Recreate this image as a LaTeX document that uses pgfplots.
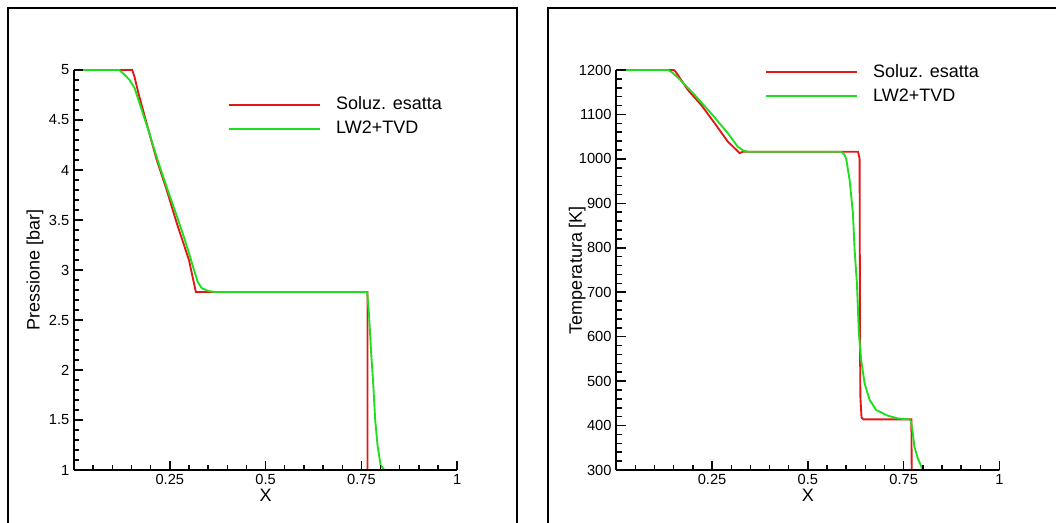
\documentclass[border=0pt]{standalone}
\usepackage{fontspec}
\setmainfont{Liberation Sans}
\usepackage{pgfplots}
\pgfplotsset{compat=1.18}

\definecolor{exred}{RGB}{224,24,24}
\definecolor{lwgreen}{RGB}{30,222,30}
\definecolor{tickc}{RGB}{10,10,10}

\pgfplotsset{
  panel/.style={
    scale only axis,
    width=287.4pt, height=300pt,
    axis x line*=bottom,
    axis y line*=left,
    axis line style={-, line width=1.5pt},
    axis on top,
    clip=false,
    tick align=inside,
    major tick length=7pt,
    minor tick length=4pt,
    xtick style={tickc, line width=1.1pt},
    ytick style={tickc, line width=1.1pt},
    minor tick style={tickc, line width=1.1pt},
    xmin=0, xmax=1,
    xtick={0,0.25,0.5,0.75,1},
    xticklabels={,0.25,0.5,0.75,1},
    minor x tick num=4,
    minor y tick num=4,
    /pgf/number format/assume math mode=true,
    /pgf/number format/1000 sep={},
    tick label style={font=\fontsize{11}{12}\selectfont},
    label style={font=\fontsize{13.5}{15}\selectfont},
    xlabel={X},
    xlabel style={at={(axis description cs:0.5,-0.0625)}, anchor=center},
    ylabel style={at={(axis description cs:-0.102,0.5)}, anchor=center},
    legend cell align=left,
    legend image code/.code={\draw[#1] (0pt,0pt) -- (68pt,0pt);},
    legend style={draw=none, fill=none, inner sep=0pt,
      font=\fontsize{13.5}{15}\selectfont,
      nodes={inner sep=0pt, text height=9.7pt, text depth=2.8pt},
      row sep=5.5pt, column sep=11.5pt},
  },
  exact/.style={exred, line width=1.4pt},
  lw/.style={lwgreen, line width=1.4pt},
}

\begin{document}
\begin{tikzpicture}
\path[use as bounding box] (0,0) rectangle (792pt,391.5pt);
% panel frames
\draw[line width=1.5pt] (6pt,-20pt) -- (6pt,385.5pt) -- (387.5pt,385.5pt) -- (387.5pt,-20pt);
\draw[line width=1.5pt] (411.2pt,-20pt) -- (411.2pt,385.5pt) -- (820pt,385.5pt);

% pressure
\begin{axis}[panel,
  at={(55.5pt,39pt)}, anchor=south west,
  ymin=1, ymax=5,
  ytick={1,1.5,...,5},
  ylabel={Pressione [bar]},
  legend style={at={(axis description cs:0.402,0.8825)}, anchor=west},
]
\addplot[exact] coordinates {
(0,5) (0.152,5) (0.158,4.93) (0.168,4.77) (0.185,4.53) (0.2,4.32) (0.216,4.1)
(0.242,3.8) (0.268,3.47) (0.30,3.1) (0.318,2.78) (0.766,2.78) (0.766,1) (1,1)};
\addlegendentry{Soluz. esatta}
\addplot[lw] coordinates {
(0,5) (0.118,5) (0.13,4.96) (0.145,4.9) (0.158,4.82) (0.17,4.68) (0.182,4.54)
(0.194,4.4) (0.21,4.2) (0.225,4.02) (0.25,3.74) (0.27,3.52) (0.285,3.35)
(0.3,3.17) (0.313,3.0) (0.323,2.88) (0.333,2.82) (0.35,2.79) (0.37,2.78)
(0.765,2.78) (0.770,2.55) (0.775,2.2) (0.781,1.85) (0.786,1.5) (0.792,1.25)
(0.80,1.05) (0.81,1.0) (1,1)};
\addlegendentry{LW2+TVD}
\end{axis}

% temperature
\begin{axis}[panel,
  at={(462.2pt,39pt)}, anchor=south west,
  ymin=300, ymax=1200,
  ytick={300,400,...,1200},
  ylabel={Temperatura [K]},
  legend style={at={(axis description cs:0.388,0.964)}, anchor=west},
]
\addplot[exact] coordinates {
(0,1200) (0.150,1200) (0.155,1196) (0.187,1155) (0.222,1121) (0.257,1080)
(0.291,1039) (0.322,1013) (0.33,1016) (0.631,1016) (0.635,1000) (0.636,600)
(0.637,465) (0.640,418) (0.645,414) (0.770,414) (0.771,300) (1,300)};
\addlegendentry{Soluz. esatta}
\addplot[lw] coordinates {
(0,1200) (0.135,1200) (0.145,1195) (0.161,1183) (0.2045,1144) (0.248,1102)
(0.291,1058) (0.3175,1027) (0.333,1018) (0.345,1016) (0.587,1016) (0.595,1010)
(0.600,1000) (0.609,952) (0.6175,878) (0.622,795) (0.628,720) (0.633,608)
(0.639,548) (0.648,495) (0.661,458) (0.678,435) (0.709,422) (0.735,416)
(0.765,414) (0.769,410) (0.774,382) (0.778,352) (0.787,326) (0.80,300) (1,300)};
\addlegendentry{LW2+TVD}
\end{axis}
\end{tikzpicture}
\end{document}
